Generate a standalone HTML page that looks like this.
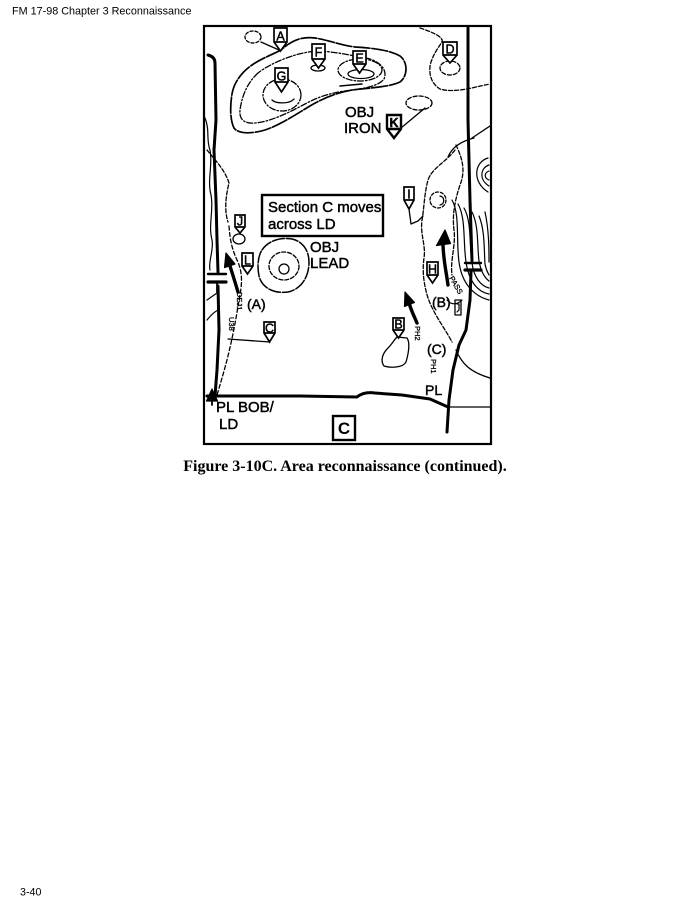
<!DOCTYPE html>
<html>
<head>
<meta charset="utf-8">
<style>
  html, body { margin:0; padding:0; background:#fff; }
  body { width:695px; height:899px; position:relative; overflow:hidden; }
  svg { position:absolute; left:0; top:0; }
  text { font-family:"Liberation Sans", Arial, sans-serif; fill:#000; }
  .cap { font-family:"Liberation Serif", "Times New Roman", serif; font-weight:bold; }
  .m { stroke:#000; stroke-width:0.45px; }
</style>
</head>
<body>
<svg width="695" height="899" viewBox="0 0 695 899" xmlns="http://www.w3.org/2000/svg">
  <!-- header / footer -->
  <text x="12" y="14.5" font-size="10.8" fill="#111">FM 17-98 Chapter 3 Reconnaissance</text>
  <text x="20" y="895.5" font-size="10.7" fill="#111">3-40</text>

  <!-- frame -->
  <rect x="204" y="26" width="287" height="418" fill="#fff" stroke="#000" stroke-width="2.2"/>

  <g fill="none" stroke="#000" stroke-linecap="round" stroke-linejoin="round">
    <!-- top-left small oval + connector to A -->
    <ellipse cx="253" cy="37" rx="8" ry="6" stroke-width="1.3" stroke-dasharray="3 2"/>
    <path d="M261,42 L279,50" stroke-width="1.3"/>

    <!-- big hill outer contour -->
    <path d="M281,50 C276,53 262,58 252,65 C242,72 234,82 232,94 C230,106 230,120 234,128 C238,134 252,134 265,130 C280,125 295,115 310,106 C322,99 335,93 352,90 C368,88 390,87 400,82 C408,76 408,62 400,56 C392,51 375,48 355,47 C340,45 328,40 315,38 C300,36 290,42 281,50 Z" stroke-width="1.7" stroke-dasharray="16 2"/>
    <!-- inner contour -->
    <path d="M258,73 C248,82 242,95 240,110 C239,120 245,124 255,123 C270,122 290,112 305,104 C318,97 330,93 345,91 C360,89 378,87 384,79 C388,70 380,61 366,58 C350,55 335,52 320,51 C300,51 272,62 258,73 Z" stroke-width="1.3" stroke-dasharray="6 2 1.5 2"/>
    <!-- G contours -->
    <ellipse cx="282" cy="95" rx="19" ry="16" stroke-width="1.3" stroke-dasharray="6 2 1.5 2"/>
    <path d="M272,100 C276,104 290,104 294,99" stroke-width="1.3"/>
    <!-- F small oval -->
    <ellipse cx="318" cy="68" rx="7" ry="3" stroke-width="1.3"/>
    <!-- E contours -->
    <ellipse cx="360" cy="70" rx="22" ry="11" stroke-width="1.3" stroke-dasharray="6 2 1.5 2"/>
    <ellipse cx="361" cy="74" rx="13" ry="4.5" stroke-width="1.3"/>
    <path d="M340,86 L362,84" stroke-width="1.5"/>

    <!-- D oval and dashed curve -->
    <ellipse cx="450" cy="68" rx="10" ry="7" stroke-width="1.3" stroke-dasharray="4 2"/>
    <path d="M420,28 C432,32 444,37 442,42 C438,48 432,56 430,66 C429,76 432,84 440,89 C450,92 462,90 472,88 C480,86 485,85 490,84" stroke-width="1.3" stroke-dasharray="4 2"/>

    <!-- K oval + connector -->
    <ellipse cx="419" cy="103" rx="13" ry="7" stroke-width="1.3" stroke-dasharray="4 2"/>
    <path d="M401,128 L425,108" stroke-width="1.3"/>

    <!-- right upper thin lines -->
    <path d="M448,157 C452,147 462,141 474,138" stroke-width="1.3"/>
    <path d="M472,138 L490,126" stroke-width="1.3"/>
    <path d="M455,150 C446,162 432,168 428,180 C424,195 424,210 422,220 C420,235 426,245 424,258 C422,272 424,285 428,298 C434,315 446,330 452,342" stroke-width="1.3" stroke-dasharray="4 2"/>
    <path d="M456,145 C462,158 466,170 460,185 C455,200 452,215 454,230 C456,245 450,260 452,275" stroke-width="1.3" stroke-dasharray="4 2"/>
    <!-- right hill contours -->
    <path d="M488,158 C474,162 472,182 488,192" stroke-width="1.2"/>
    <path d="M489,165 C480,168 479,180 489,186" stroke-width="1.2"/>
    <path d="M489,171 C484,173 484,178 489,180" stroke-width="1.2"/>
    <path d="M452,200 C460,214 456,240 459,262 C462,284 474,296 489,300" stroke-width="1.2"/>
    <path d="M458,204 C466,218 463,242 466,262 C469,282 478,292 489,294" stroke-width="1.2"/>
    <path d="M464,208 C472,222 469,245 472,263 C474,278 481,286 489,288" stroke-width="1.2"/>
    <path d="M472,212 C479,226 477,246 479,261 C481,272 485,278 489,281" stroke-width="1.2"/>
    <path d="M479,216 C485,230 484,250 485,264 C486,270 488,273 489,275" stroke-width="1.2"/>
    <path d="M485,212 C489,230 489,250 489,262" stroke-width="1.2"/>
    <path d="M447,300 C452,306 458,304 462,300" stroke-width="1.2"/>

    <!-- I marker connector + dashed circle -->
    <path d="M409,209 L411,224 L418,221 L423,216" stroke-width="1.3"/>
    <circle cx="438" cy="200" r="8" stroke-width="1.3" stroke-dasharray="3 2"/>
    <path d="M440,196 C445,197 445,204 440,205" stroke-width="1.3"/>

    <!-- lower right thin curve -->
    <path d="M456,350 C462,364 470,372 490,378" stroke-width="1.3"/>

    <!-- OBJ LEAD contours -->
    <path d="M262,250 C268,241 280,237 292,239 C302,241 309,250 309,262 C309,276 302,289 288,292 C274,294 262,288 259,276 C257,266 258,256 262,250 Z" stroke-width="1.5" stroke-dasharray="12 2"/>
    <ellipse cx="284" cy="266" rx="15" ry="14" stroke-width="1.3" stroke-dasharray="4 2"/>
    <circle cx="284" cy="269" r="5" stroke-width="1.3"/>

    <!-- J small oval -->
    <ellipse cx="239" cy="239" rx="6" ry="5" stroke-width="1.3"/>

    <!-- B hill -->
    <path d="M397,337 L407,338 C410,342 409,352 406,362 C403,368 390,368 384,366 C381,362 381,355 388,348 C392,344 394,340 397,337 Z" stroke-width="1.3"/>

    <!-- left side thin lines -->
    <path d="M205,118 C210,130 206,140 210,150 C213,165 207,180 211,195 C214,210 208,225 212,240 C214,250 208,262 210,270" stroke-width="1.2"/>
    <path d="M207,150 C215,160 225,170 229,183 C226,195 224,210 228,222" stroke-width="1.3" stroke-dasharray="4 2"/>
    <path d="M207,300 L217,293 M207,320 C211,315 214,312 218,310" stroke-width="1.2"/>
    <!-- dashed route -->
    <path d="M229,226 C230,240 232,250 238,262 C243,275 242,285 239,300 C236,320 232,340 227,360 C223,375 220,385 217,395" stroke-width="1.3" stroke-dasharray="4 2.5"/>
    <!-- line from C marker -->
    <path d="M270,342 L228,339" stroke-width="1.3"/>

    <!-- thick roads -->
    <path d="M208,55 C212,56 215,58 215,63 L216,120 L214,150 L216,200 L217,240 L218,272" stroke-width="3"/>
    <path d="M218,286 L219,330 L217,370 L215,396" stroke-width="3"/>
    <path d="M468,28 L468,120 L470,200 L472,261" stroke-width="3"/>
    <path d="M471,272 L470,300 L466,330 L459,345 L453,370 L449,400 L447,432" stroke-width="3"/>
    <!-- bar symbols -->
    <path d="M208,274 L226,274" stroke-width="2.4"/>
    <path d="M208,282 L226,282" stroke-width="3.2"/>
    <path d="M217,282 L217,292" stroke-width="1.8"/>
    <path d="M465,263 L481,263" stroke-width="2.4"/>
    <path d="M465,270 L481,270" stroke-width="3.2"/>

    <!-- PL BOB / LD line -->
    <path d="M207,396 L300,396 L357,397 C362,393 368,392 375,393 L402,395 L430,399 L448,407" stroke-width="3"/>
    <path d="M448,407 L490,407" stroke-width="1.3"/>
    <path d="M212,391 L212,405" stroke-width="1.8"/>

    <!-- arrow shafts -->
    <path d="M238,292 C235,282 232,272 229.6,265" stroke-width="3.4"/>
    <path d="M448,285 C446,270 443,258 443,243" stroke-width="3.4"/>
    <path d="M417,323 C414,316 411,310 409.4,304" stroke-width="3.4"/>

    <!-- small box near (B) -->
    <rect x="455" y="300" width="6" height="15" stroke-width="1.3"/>
    <path d="M457,304 L459,304 L459,310 L457,312" stroke-width="1.2"/>
  </g>

  <!-- arrowheads -->
  <g fill="#000" stroke="#000" stroke-width="1.2" stroke-linejoin="round">
    <polygon points="226,253 235,264 224.5,267.5"/>
    <polygon points="445,230 450.5,243.5 436.5,245.5"/>
    <polygon points="405,292 414.5,302.5 404.5,306.5"/>
    <polygon points="212,389 206.5,401 217.5,401"/>
  </g>

  <!-- markers -->
  <g fill="#fff" stroke="#000" stroke-width="1.7" stroke-linejoin="miter">
    <path d="M274,28h13v14l-6.5,9l-6.5,-9z M274,42h13"/>
    <path d="M312,44h13v15l-6.5,9l-6.5,-9z M312,59h13"/>
    <path d="M353,51h13v13l-6.5,9l-6.5,-9z M353,64h13"/>
    <path d="M275,68h13v14l-6.5,10l-6.5,-10z M275,82h13"/>
    <path d="M443,42h14v13l-7,8l-7,-8z M443,55h14"/>
    <path d="M387,115h14v14l-7,9l-7,-9z M387,129h14" stroke-width="2.4"/>
    <path d="M404,187h10v13l-5,9l-5,-9z M404,200h10"/>
    <path d="M235,215h10v12l-5,6l-5,-6z M235,227h10"/>
    <path d="M242,253h11v13l-5.5,8l-5.5,-8z M242,266h11"/>
    <path d="M427,262h11v13l-5.5,8l-5.5,-8z M427,275h11"/>
    <path d="M264,322h11v11l-5.5,9l-5.5,-9z M264,333h11"/>
    <path d="M393,318h11v12l-5.5,8l-5.5,-8z M393,330h11"/>
  </g>
  <g font-size="12.5" text-anchor="middle" class="m">
    <text x="280.5" y="40.5">A</text>
    <text x="318.5" y="56.5">F</text>
    <text x="359.5" y="62.5">E</text>
    <text x="281.5" y="80.5">G</text>
    <text x="450" y="53.5">D</text>
    <text x="394" y="127" font-weight="bold">K</text>
    <text x="409" y="198.5">I</text>
    <text x="240" y="225.5">J</text>
    <text x="247.5" y="264.5">L</text>
    <text x="432.5" y="273.5">H</text>
    <text x="269.5" y="332.5">C</text>
    <text x="398.5" y="328.5">B</text>
  </g>

  <!-- Section C box -->
  <rect x="262" y="195" width="121" height="41" fill="#fff" stroke="#000" stroke-width="2.4"/>
  <g class="m">
  <text x="268" y="212" font-size="15">Section C moves</text>
  <text x="268" y="229" font-size="15">across LD</text>

  <!-- labels -->
  <text x="345" y="117" font-size="15">OBJ</text>
  <text x="344" y="133" font-size="15">IRON</text>
  <text x="310" y="252" font-size="15">OBJ</text>
  <text x="310" y="268" font-size="15">LEAD</text>
  <text x="247" y="309" font-size="14">(A)</text>
  <text x="432" y="307" font-size="14">(B)</text>
  <text x="427" y="354" font-size="14">(C)</text>
  <text x="425" y="395" font-size="14">PL</text>
  <text x="216" y="412" font-size="15">PL BOB/</text>
  <text x="219" y="429" font-size="15">LD</text>
  </g>

  <!-- rotated small route labels -->
  <g font-size="7.5" class="m" style="stroke-width:0.3px">
    <text transform="translate(237,292) rotate(90)">DEJ1</text>
    <text transform="translate(229,317) rotate(90)">U38</text>
    <text transform="translate(415,326) rotate(90)">PH2</text>
    <text transform="translate(431,359) rotate(90)">PH1</text>
    <text transform="translate(449,278) rotate(60)">PASS</text>
  </g>

  <!-- big C marker -->
  <rect x="333" y="416" width="22" height="24" fill="#fff" stroke="#000" stroke-width="2.4"/>
  <text x="344" y="434" font-size="17" font-weight="bold" text-anchor="middle">C</text>

  <!-- caption -->
  <text class="cap" x="345" y="471" font-size="16" text-anchor="middle">Figure 3-10C. Area reconnaissance (continued).</text>
</svg>
</body>
</html>
